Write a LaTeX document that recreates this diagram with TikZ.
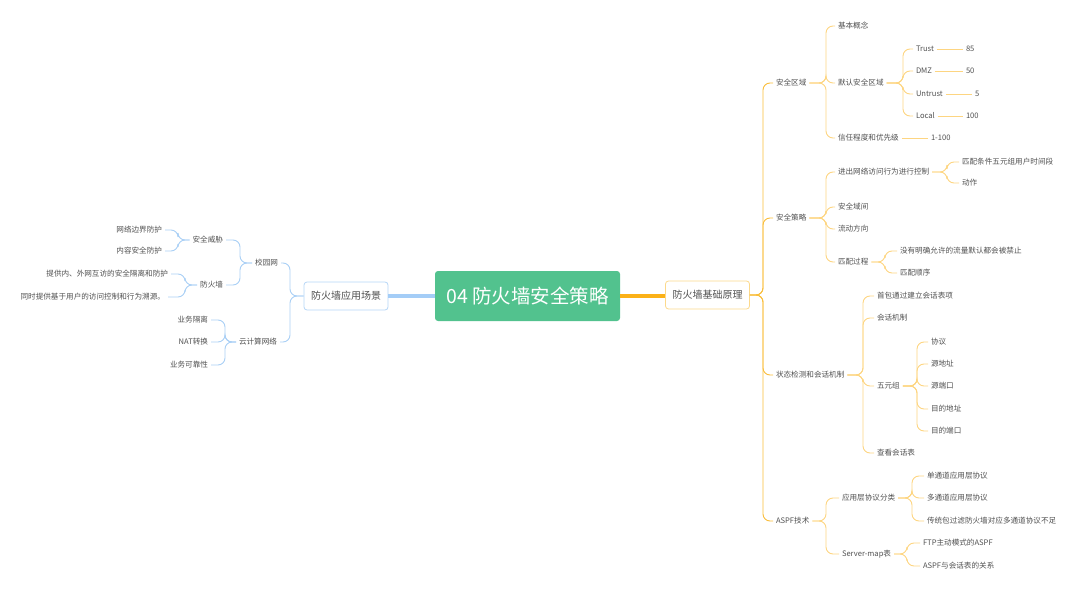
\documentclass[tikz,border=0pt]{standalone}
\usepackage{fontspec}
\setmainfont{Noto Sans CJK SC}
\definecolor{txt}{HTML}{505050}
\definecolor{grn}{HTML}{52C28E}
\definecolor{orT}{HTML}{FBB117}
\definecolor{or1}{HTML}{F9BD3A}
\definecolor{or2}{HTML}{FDD581}
\definecolor{orB}{HTML}{FCD98B}
\definecolor{blT}{HTML}{A4CDF7}
\definecolor{bl1}{HTML}{A9CFF5}
\definecolor{blB}{HTML}{B5D6F7}
\tikzset{
  leaf/.style={anchor=west, inner sep=0pt, outer xsep=3pt, outer ysep=0pt, text=txt, font=\fontsize{7.6}{9}\selectfont},
  leafl/.style={leaf, anchor=east},
  lo1/.style={draw=or1, line width=0.9pt, rounded corners=7pt},
  lo2/.style={draw=or2, line width=0.9pt, rounded corners=7pt},
  lb/.style={draw=bl1, line width=0.9pt, rounded corners=7pt},
  topicbox/.style={draw, rounded corners=3pt, fill=white, line width=0.8pt, minimum width=84pt, minimum height=28pt, inner sep=0pt, text=txt, font=\fontsize{10}{12}\selectfont},
}
\begin{document}
\begin{tikzpicture}[x=1pt,y=-1pt]
\useasboundingbox (0,0) rectangle (1080,591);
% central
\node[fill=grn, rounded corners=3pt, minimum width=185pt, minimum height=50pt, inner sep=0pt, text=white, font=\fontsize{19.5}{22}\selectfont] (c) at (527.5,296) {04 防火墙安全策略};
\node[topicbox, draw=orB] (R) at (707.5,295) {防火墙基础原理};
\node[topicbox, draw=blB] (L) at (346,296) {防火墙应用场景};
\draw[orT, line width=4pt] (c.east) -- (R.west |- c.east);
\draw[blT, line width=4pt] (c.west) -- (L.east |- c.west);

% ---------- right side ----------
\coordinate (jR) at (763,295);
\node[leaf] (a1) at (773,83) {安全区域};
\node[leaf] (a2) at (773,218) {安全策略};
\node[leaf] (a3) at (773,375) {状态检测和会话机制};
\node[leaf] (a4) at (773,521) {ASPF技术};
\foreach \n in {a1,a2,a3,a4} \draw[lo1] (R.east) -- (R.east -| jR) |- (\n.west);

% 安全区域
\coordinate (j1) at (826,0);
\node[leaf] (b1) at (835,26) {基本概念};
\node[leaf] (b2) at (835,83) {默认安全区域};
\node[leaf] (b3) at (835,138) {信任程度和优先级};
\foreach \n in {b1,b2,b3} \draw[lo2] (a1.east) -- (a1.east -| j1) |- (\n.west);
\coordinate (j2) at (903,0);
\node[leaf] (t1) at (913,49) {Trust};
\node[leaf] (t2) at (913,71) {DMZ};
\node[leaf] (t3) at (913,94) {Untrust};
\node[leaf] (t4) at (913,116) {Local};
\foreach \n in {t1,t2,t3,t4} \draw[lo2] (b2.east) -- (b2.east -| j2) |- (\n.west);
\node[leaf] (v1) at (963,49) {85};
\node[leaf] (v2) at (963,71) {50};
\node[leaf] (v3) at (972,94) {5};
\node[leaf] (v4) at (963,116) {100};
\draw[lo2] (t1.east) -- (v1.west);
\draw[lo2] (t2.east) -- (v2.west);
\draw[lo2] (t3.east) -- (v3.west);
\draw[lo2] (t4.east) -- (v4.west);
\node[leaf] (v5) at (928,138) {1-100};
\draw[lo2] (b3.east) -- (v5.west);

% 安全策略
\node[leaf] (p1) at (835,172) {进出网络访问行为进行控制};
\node[leaf] (p2) at (835,207) {安全域间};
\node[leaf] (p3) at (835,229) {流动方向};
\node[leaf] (p4) at (835,262) {匹配过程};
\foreach \n in {p1,p2,p3,p4} \draw[lo2] (a2.east) -- (a2.east -| j1) |- (\n.west);
\coordinate (j3) at (947,0);
\node[leaf] (q1) at (959,162) {匹配条件五元组用户时间段};
\node[leaf] (q2) at (959,183) {动作};
\foreach \n in {q1,q2} \draw[lo2] (p1.east) -- (p1.east -| j3) |- (\n.west);
\coordinate (j4) at (885,0);
\node[leaf] (r1) at (897,251) {没有明确允许的流量默认都会被禁止};
\node[leaf] (r2) at (897,273) {匹配顺序};
\foreach \n in {r1,r2} \draw[lo2] (p4.east) -- (p4.east -| j4) |- (\n.west);

% 状态检测和会话机制
\coordinate (j5) at (863,0);
\node[leaf] (s1) at (874,296) {首包通过建立会话表项};
\node[leaf] (s2) at (874,318) {会话机制};
\node[leaf] (s3) at (874,386) {五元组};
\node[leaf] (s4) at (874,453) {查看会话表};
\foreach \n in {s1,s2,s3,s4} \draw[lo2] (a3.east) -- (a3.east -| j5) |- (\n.west);
\coordinate (j6) at (917,0);
\node[leaf] (f1) at (928,342) {协议};
\node[leaf] (f2) at (928,364) {源地址};
\node[leaf] (f3) at (928,386) {源端口};
\node[leaf] (f4) at (928,409) {目的地址};
\node[leaf] (f5) at (928,431) {目的端口};
\foreach \n in {f1,f2,f3,f4,f5} \draw[lo2] (s3.east) -- (s3.east -| j6) |- (\n.west);

% ASPF技术
\node[leaf] (g1) at (839,498) {应用层协议分类};
\node[leaf] (g2) at (839,554) {Server-map表};
\foreach \n in {g1,g2} \draw[lo2] (a4.east) -- (a4.east -| j1) |- (\n.west);
\coordinate (j7) at (912,0);
\node[leaf] (h1) at (924,476) {单通道应用层协议};
\node[leaf] (h2) at (924,498) {多通道应用层协议};
\node[leaf] (h3) at (924,521) {传统包过滤防火墙对应多通道协议不足};
\foreach \n in {h1,h2,h3} \draw[lo2] (g1.east) -- (g1.east -| j7) |- (\n.west);
\coordinate (j8) at (907,0);
\node[leaf] (k1) at (920,543) {FTP主动模式的ASPF};
\node[leaf] (k2) at (920,566) {ASPF与会话表的关系};
\foreach \n in {k1,k2} \draw[lo2] (g2.east) -- (g2.east -| j8) |- (\n.west);

% ---------- left side ----------
\coordinate (jL) at (290,0);
\node[leafl] (m1) at (281,263) {校园网};
\node[leafl] (m2) at (280,342) {云计算网络};
\foreach \n in {m1,m2} \draw[lb] (L.west) -- (L.west -| jL) |- (\n.east);
\coordinate (jL1) at (240,0);
\node[leafl] (n1) at (226,240) {安全威胁};
\node[leafl] (n2) at (226,285) {防火墙};
\foreach \n in {n1,n2} \draw[lb] (m1.west) -- (m1.west -| jL1) |- (\n.east);
\coordinate (jL2) at (178,0);
\node[leafl] (o1) at (165,230) {网络边界防护};
\node[leafl] (o2) at (165,251) {内容安全防护};
\foreach \n in {o1,o2} \draw[lb] (n1.west) -- (n1.west -| jL2) |- (\n.east);
\coordinate (jL3) at (185,0);
\node[leafl] (o3) at (171,274) {提供内、外网互访的安全隔离和防护};
\node[leafl] (o4) at (168,297) {同时提供基于用户的访问控制和行为溯源。};
\foreach \n in {o3,o4} \draw[lb] (n2.west) -- (n2.west -| jL3) |- (\n.east);
\coordinate (jL4) at (225,0);
\node[leafl] (u1) at (211,320) {业务隔离};
\node[leafl] (u2) at (211,342) {NAT转换};
\node[leafl] (u3) at (211,365) {业务可靠性};
\foreach \n in {u1,u2,u3} \draw[lb] (m2.west) -- (m2.west -| jL4) |- (\n.east);
\end{tikzpicture}
\end{document}
